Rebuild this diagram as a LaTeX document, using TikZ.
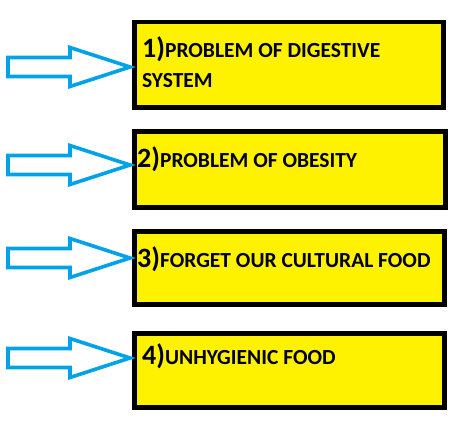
\documentclass[tikz,border=0pt]{standalone}
\usepackage{fontspec}
\setmainfont{Carlito}
\definecolor{boxyellow}{RGB}{255,242,0}
\definecolor{arrowblue}{RGB}{0,162,232}
\newcommand{\bignumfont}{\bfseries\fontsize{28}{32}\selectfont}
\tikzset{
  probbox/.style={draw=black, line width=4.5pt, fill=boxyellow, inner sep=0pt, anchor=north west},
  probtext/.style={anchor=base west, inner sep=0pt, font=\bfseries\fontsize{21.5}{25}\selectfont, text=black},
  blockarrow/.style={draw=arrowblue, line width=3.6pt, fill=white, line join=miter}
}
\newcommand{\blockarr}[2]{% tip x, tip y
  \draw[blockarrow] (#1-122,#2-9.5) -- (#1-60,#2-9.5) -- (#1-60,#2-19.5) -- (#1,#2) -- (#1-60,#2+19.5) -- (#1-60,#2+9.5) -- (#1-122,#2+9.5) -- cycle;}
\begin{document}
\begin{tikzpicture}[x=1pt,y=-1pt]
\useasboundingbox (0,0) rectangle (468,420);
% boxes
\node[probbox, minimum width=309pt, minimum height=85pt] (b1) at (132,20) {};
\node[probbox, minimum width=311pt, minimum height=76pt] (b2) at (132,129) {};
\node[probbox, minimum width=310pt, minimum height=73pt] (b3) at (132,229) {};
\node[probbox, minimum width=310pt, minimum height=74pt] (b4) at (132,331) {};
% arrows
\blockarr{130}{67}
\blockarr{130}{165}
\blockarr{130}{258}
\blockarr{130}{358}
% texts
\node[probtext] (t1) at (142,58) {{\bignumfont 1)}PROBLEM OF DIGESTIVE};
\node[probtext] (t1b) at (142,87) {SYSTEM};
\node[probtext] (t2) at (137,167) {{\bignumfont 2)}PROBLEM OF OBESITY};
\node[probtext] (t3) at (137,267) {{\bignumfont 3)}FORGET OUR CULTURAL FOOD};
\node[probtext] (t4) at (142,364) {{\bignumfont 4)}UNHYGIENIC FOOD};
\end{tikzpicture}
\end{document}
